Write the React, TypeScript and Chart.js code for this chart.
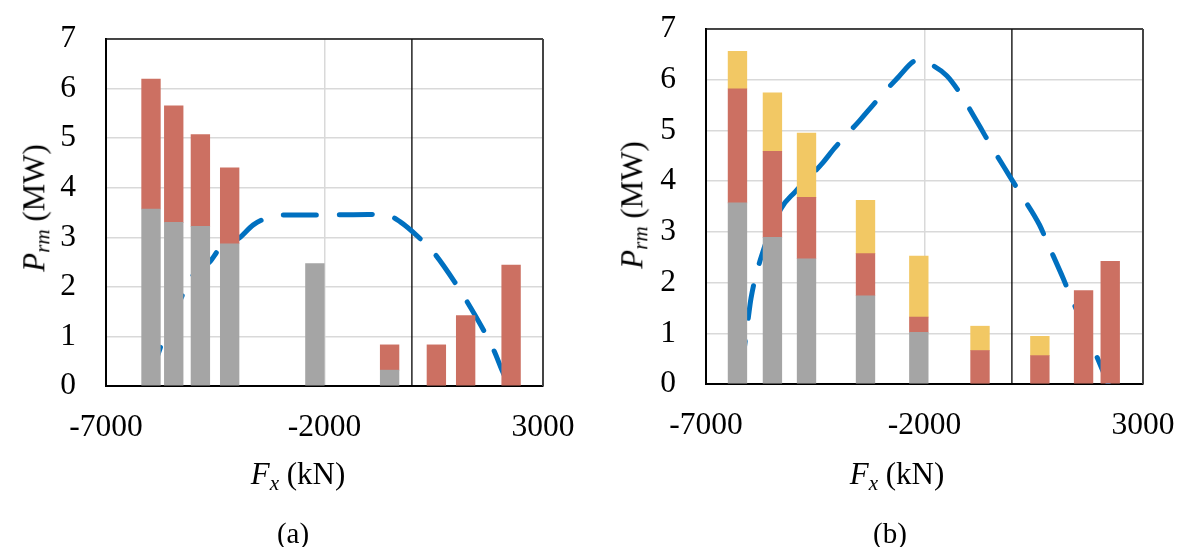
import React, { useEffect, useRef } from 'react';
import { Chart, registerables } from 'chart.js';

Chart.register(...registerables);

// ---------- data ----------
const X_TICKS = [-7000, -2000, 3000];
const Y_TICKS = [0, 1, 2, 3, 4, 5, 6, 7];
const MARKER_X = 0;

// chart (a)
const barXA = [-5970, -5450, -4840, -4170, -2220, -510, 560, 1230, 2270];
const grayA = [3.57, 3.3, 3.22, 2.87, 2.47, 0.32, null, null, null];
const redA = [2.62, 2.35, 1.85, 1.53, null, 0.51, 0.83, 1.42, 2.44];
const lineXA = [-6000, -5750, -5610, -5230, -5040, -4630, -4390, -3960, -3630, -3240, -2800, -2000, -1000, -570, -266, 155, 500, 1000, 1250, 1680, 1890, 2060, 2200];
const lineYA = [0.15, 0.79, 1.13, 1.87, 2.2, 2.5, 2.78, 2.98, 3.25, 3.41, 3.45, 3.45, 3.46, 3.45, 3.31, 3.0, 2.69, 2.07, 1.72, 1.06, 0.69, 0.32, 0.05];

// chart (b)
const barXB = [-6280, -5480, -4700, -3350, -2130, -730, 640, 1640, 2250];
const grayB = [3.57, 2.89, 2.47, 1.74, 1.02, null, null, null, null];
const redB = [2.25, 1.7, 1.21, 0.83, 0.3, 0.66, 0.56, 1.84, 2.42];
const yellowB = [0.74, 1.15, 1.27, 1.05, 1.2, 0.48, 0.38, null, null];
const lineXB = [-6200, -6090, -6030, -5970, -5760, -5290, -4960, -4350, -4050, -3480, -3170, -2580, -2250, -2100, -1870, -1490, -1200, -750, -515, -60, 185, 630, 820, 1170, 1350, 1880, 2055, 2200];
const lineYB = [0.2, 0.93, 1.32, 1.69, 2.44, 3.45, 3.79, 4.34, 4.66, 5.2, 5.51, 6.07, 6.36, 6.39, 6.31, 6.08, 5.75, 5.1, 4.75, 4.11, 3.77, 3.14, 2.77, 2.09, 1.72, 0.67, 0.31, 0.02];

// ---------- styles ----------
const GRAY = '#A5A5A5';
const RED = '#CC7062';
const YELLOW = '#F2C864';
const BLUE = '#0070C0';
const FONT = "'Liberation Serif', 'Times New Roman', serif";

const framePlugin = {
  id: 'frame',
  beforeDatasetsDraw(chart: any) {
    const { ctx, chartArea, scales } = chart;
    const x0 = scales.x.getPixelForValue(MARKER_X);
    ctx.save();
    ctx.strokeStyle = '#000';
    ctx.lineWidth = 1.3;
    ctx.beginPath();
    ctx.moveTo(x0, chartArea.top);
    ctx.lineTo(x0, chartArea.bottom);
    ctx.stroke();
    ctx.restore();
  },
  afterDatasetsDraw(chart: any) {
    const { ctx, chartArea } = chart;
    const { left, right, top, bottom } = chartArea;
    ctx.save();
    ctx.strokeStyle = '#111';
    ctx.lineWidth = 1.5;
    ctx.beginPath();
    ctx.moveTo(left, top);
    ctx.lineTo(right, top);
    ctx.stroke();
    ctx.strokeStyle = '#444';
    ctx.lineWidth = 2;
    ctx.beginPath();
    ctx.moveTo(right, top);
    ctx.lineTo(right, bottom);
    ctx.stroke();
    ctx.restore();
  },
};

interface Spec {
  barX: number[];
  stacks: { data: (number | null)[]; color: string }[];
  lineX: number[];
  lineY: number[];
  yAxisWidth: number;
  xAxisHeight: number;
  padRight: number;
  padTop: number;
}

function makeConfig(s: Spec): any {
  const barSets = s.stacks.map((st) => ({
    type: 'bar',
    data: s.barX.map((x, i) => ({ x, y: st.data[i] })),
    backgroundColor: st.color,
    borderWidth: 0,
    barThickness: 18.7,
    stack: 'bars',
    order: 0,
  }));
  const lineSet = {
    type: 'line',
    data: s.lineX.map((x, i) => ({ x, y: s.lineY[i] })),
    borderColor: BLUE,
    borderWidth: 5,
    borderDash: [33, 23],
    borderCapStyle: 'round',
    pointRadius: 0,
    fill: false,
    cubicInterpolationMode: 'monotone',
    stack: 'line',
    order: 1,
  };
  return {
    type: 'bar',
    data: { datasets: [...barSets, lineSet] },
    options: {
      animation: false,
      responsive: true,
      maintainAspectRatio: false,
      layout: { padding: { left: 0, right: s.padRight, top: s.padTop, bottom: 0 } },
      plugins: { legend: { display: false }, tooltip: { enabled: false } },
      scales: {
        x: {
          type: 'linear',
          min: X_TICKS[0],
          max: X_TICKS[X_TICKS.length - 1],
          offset: false,
          stacked: true,
          afterBuildTicks: (sc: any) => {
            sc.ticks = X_TICKS.map((v) => ({ value: v }));
          },
          afterFit: (sc: any) => {
            sc.height = s.xAxisHeight;
            sc.paddingLeft = 0;
            sc.paddingRight = 0;
          },
          ticks: {
            callback: (v: any) => String(v),
            font: { family: FONT, size: 31.5 },
            color: '#000',
            padding: 23,
            maxRotation: 0,
            autoSkip: false,
          },
          grid: { color: '#D9D9D9', lineWidth: 1.5, drawTicks: false, offset: false },
          border: { color: '#000', width: 2 },
        },
        y: {
          type: 'linear',
          min: Y_TICKS[0],
          max: Y_TICKS[Y_TICKS.length - 1],
          stacked: true,
          afterBuildTicks: (sc: any) => {
            sc.ticks = Y_TICKS.map((v) => ({ value: v }));
          },
          afterFit: (sc: any) => {
            sc.width = s.yAxisWidth;
            sc.paddingTop = 0;
            sc.paddingBottom = 0;
          },
          ticks: {
            callback: (v: any) => String(v),
            font: { family: FONT, size: 31.5 },
            color: '#000',
            padding: 30,
            autoSkip: false,
          },
          grid: { color: '#D9D9D9', lineWidth: 1.5, drawTicks: false },
          border: { color: '#000', width: 2 },
        },
      },
    },
    plugins: [framePlugin],
  };
}

function ChartBox({ spec, left, width }: { spec: Spec; left: number; width: number }) {
  const ref = useRef<HTMLCanvasElement | null>(null);
  useEffect(() => {
    if (!ref.current) return;
    const chart = new Chart(ref.current, makeConfig(spec));
    return () => chart.destroy();
  }, [spec]);
  return (
    <div style={{ position: 'absolute', left, top: 0, width, height: 547 }}>
      <canvas ref={ref} />
    </div>
  );
}

const specA: Spec = {
  barX: barXA,
  stacks: [
    { data: grayA, color: GRAY },
    { data: redA, color: RED },
  ],
  lineX: lineXA,
  lineY: lineYA,
  yAxisWidth: 106,
  xAxisHeight: 161,
  padRight: 47,
  padTop: 39,
};

const specB: Spec = {
  barX: barXB,
  stacks: [
    { data: grayB, color: GRAY },
    { data: redB, color: RED },
    { data: yellowB, color: YELLOW },
  ],
  lineX: lineXB,
  lineY: lineYB,
  yAxisWidth: 116,
  xAxisHeight: 163,
  padRight: 35,
  padTop: 29,
};

const textBase: React.CSSProperties = {
  position: 'absolute',
  fontFamily: FONT,
  color: '#000',
  whiteSpace: 'nowrap',
  lineHeight: 1,
};

function XTitle({ cx, cy }: { cx: number; cy: number }) {
  return (
    <div style={{ ...textBase, left: cx, top: cy, fontSize: 31, transform: 'translate(-50%, -50%)' }}>
      <i>F</i>
      <span style={{ fontSize: '0.68em', fontStyle: 'italic', verticalAlign: '-0.25em' }}>x</span> (kN)
    </div>
  );
}

function YTitle({ cx, cy }: { cx: number; cy: number }) {
  return (
    <div
      style={{
        ...textBase,
        left: cx,
        top: cy,
        fontSize: 31,
        transform: 'translate(-50%, -50%) rotate(-90deg)',
      }}
    >
      <i>P</i>
      <span style={{ fontSize: '0.68em', fontStyle: 'italic', verticalAlign: '-0.25em' }}>rm</span> (MW)
    </div>
  );
}

function Caption({ cx, cy, text }: { cx: number; cy: number; text: string }) {
  return (
    <div style={{ ...textBase, left: cx, top: cy, fontSize: 29, transform: 'translate(-50%, -50%)' }}>{text}</div>
  );
}

export default function App() {
  return (
    <div
      style={{
        position: 'fixed',
        left: 0,
        top: 0,
        width: 1178,
        height: 547,
        background: '#fff',
        overflow: 'hidden',
      }}
    >
      <ChartBox spec={specA} left={0} width={590} />
      <ChartBox spec={specB} left={590} width={588} />
      <XTitle cx={298} cy={476} />
      <YTitle cx={36} cy={208} />
      <Caption cx={293} cy={533} text="(a)" />
      <XTitle cx={897} cy={476} />
      <YTitle cx={634} cy={205} />
      <Caption cx={890} cy={533} text="(b)" />
    </div>
  );
}
